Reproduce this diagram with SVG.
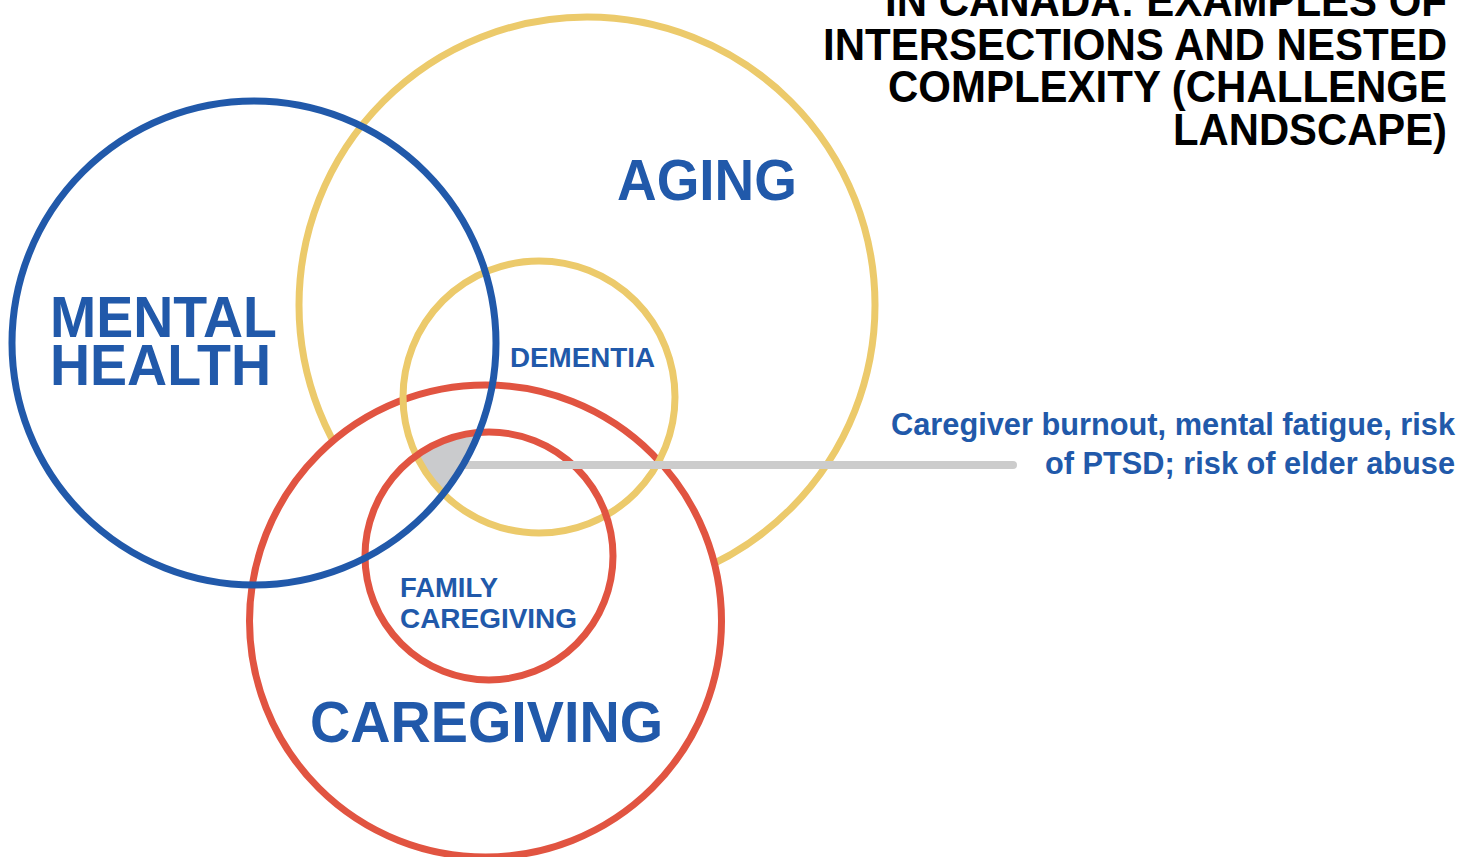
<svg xmlns="http://www.w3.org/2000/svg" width="1473" height="857" viewBox="0 0 1473 857">
<style>
.ring{fill:none;stroke-width:7}
.y{stroke:#ecca6b}
.r{stroke:#e15441}
.b{stroke:#2159aa}
.t{font-family:"Liberation Sans",Arial,sans-serif;font-weight:bold}
.lbl{fill:#2159aa}
.title{fill:#000;text-anchor:end}
</style>
<defs>
<clipPath id="cBlue"><circle cx="254" cy="343" r="242"/></clipPath>
<clipPath id="cDem"><circle cx="539" cy="397" r="136"/></clipPath>
</defs>
<rect width="1473" height="857" fill="#fff"/>
<g id="aging"><circle class="ring y" cx="587" cy="305" r="288"/></g>
<g id="caregiving"><circle class="ring r" cx="485.5" cy="621" r="236" style="fill:#fff"/></g>
<g id="overlap-shade" clip-path="url(#cBlue)">
<g clip-path="url(#cDem)">
<circle cx="489" cy="556" r="124" fill="#cacbcd"/>
</g>
</g>
<g id="dementia"><circle class="ring y" cx="539" cy="397" r="136"/></g>
<g id="family-caregiving"><circle class="ring r" cx="489" cy="556" r="124"/></g>
<g id="connectors">
<line x1="458" y1="465" x2="1013" y2="465" stroke="#cccccc" stroke-width="8" stroke-linecap="round"/>
</g>
<g id="mental-health"><circle class="ring b" cx="254" cy="343" r="242"/></g>
<g id="labels" class="t lbl">
<text x="617" y="200" font-size="58" textLength="180" lengthAdjust="spacingAndGlyphs">AGING</text>
<text x="50" y="337" font-size="58" textLength="227" lengthAdjust="spacingAndGlyphs">MENTAL</text>
<text x="50" y="385" font-size="58" textLength="221" lengthAdjust="spacingAndGlyphs">HEALTH</text>
<text x="510" y="367" font-size="27" textLength="145" lengthAdjust="spacingAndGlyphs">DEMENTIA</text>
<text x="400" y="597" font-size="27" textLength="98" lengthAdjust="spacingAndGlyphs">FAMILY</text>
<text x="400" y="628" font-size="27" textLength="177" lengthAdjust="spacingAndGlyphs">CAREGIVING</text>
<text x="310" y="742" font-size="58" textLength="353" lengthAdjust="spacingAndGlyphs">CAREGIVING</text>
</g>
<g id="callout" class="t lbl" text-anchor="end">
<text x="1455" y="435" font-size="31" textLength="564" lengthAdjust="spacingAndGlyphs">Caregiver burnout, mental fatigue, risk</text>
<text x="1455" y="474" font-size="31" textLength="410" lengthAdjust="spacingAndGlyphs">of PTSD; risk of elder abuse</text>
</g>
<g id="title" class="t title" font-size="45">
<text x="1447" y="16" textLength="562" lengthAdjust="spacingAndGlyphs">IN CANADA: EXAMPLES OF</text>
<text x="1447" y="60" textLength="624" lengthAdjust="spacingAndGlyphs">INTERSECTIONS AND NESTED</text>
<text x="1447" y="102" textLength="559" lengthAdjust="spacingAndGlyphs">COMPLEXITY (CHALLENGE</text>
<text x="1447" y="145" textLength="274" lengthAdjust="spacingAndGlyphs">LANDSCAPE)</text>
</g>
</svg>
